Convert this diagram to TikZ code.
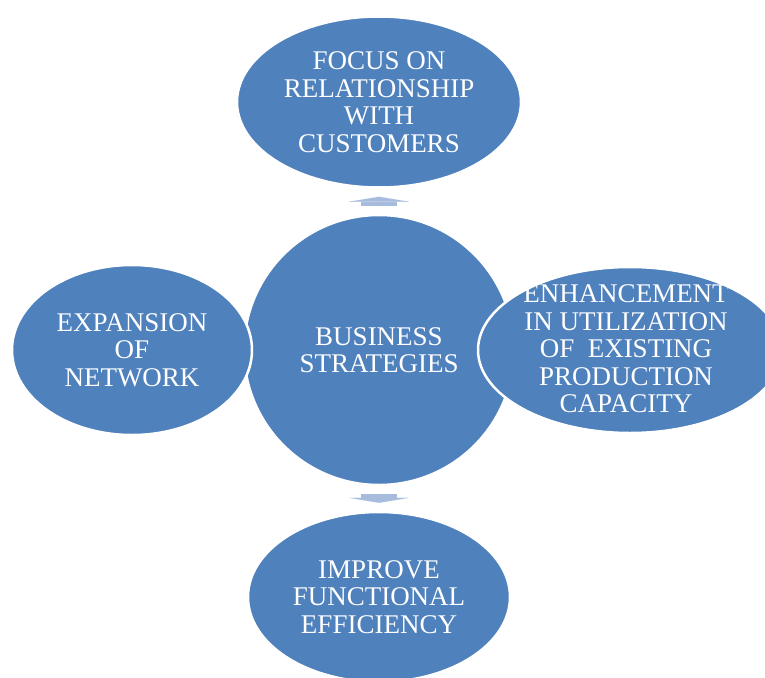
\documentclass[tikz,border=0pt]{standalone}
\usepackage{fontspec}
\setmainfont{Liberation Serif}
\usetikzlibrary{shapes.geometric,arrows.meta}
\definecolor{bubblue}{HTML}{4F81BD}
\definecolor{arrblue}{HTML}{A7BCDC}

\begin{document}
\begin{tikzpicture}[x=1pt,y=1pt]
\tikzstyle{every node}+=[inner sep=0pt]
\tikzstyle{bubble}=[ellipse, fill=bubblue, draw=white, line width=2.5pt]
\tikzstyle{bubtext}=[text=white, align=center, font=\fontsize{27}{27.5}\selectfont]
\tikzstyle{blockarrow}=[draw=arrblue, fill=arrblue, line width=36pt, -{Triangle[width=60pt,length=5pt,line width=0.01pt]}, shorten <=8pt, shorten >=8pt]
\useasboundingbox (0,0) rectangle (765,-677);
\clip (0,0) rectangle (765,-677);
% middle
\node [bubble, minimum width=270pt, minimum height=270pt] (business) at (379,-350) {};
\node [bubtext] (business-t) at (business) {BUSINESS\\STRATEGIES};
% top and bottom
\node [bubble, minimum width=284pt, minimum height=171pt] (focus) at (379,-102) {};
\node [bubtext] (focus-t) at (focus) {FOCUS ON\\RELATIONSHIP\\WITH\\CUSTOMERS};
\node [bubble, minimum width=262pt, minimum height=170pt] (improve) at (379,-597) {};
\node [bubtext] (improve-t) at (improve) {IMPROVE\\FUNCTIONAL\\EFFICIENCY};
% sides
\node [bubble, minimum width=240pt, minimum height=170pt] (expansion) at (132,-350) {};
\node [bubtext] (expansion-t) at (expansion) {EXPANSION\\OF\\NETWORK};
\node [bubble, minimum width=304pt, minimum height=166pt] (enhance) at (630,-350) {};
\node [bubtext] (enhance-t) at (626,-349) {ENHANCEMENT\\IN UTILIZATION\\OF~ EXISTING\\PRODUCTION\\CAPACITY};
% arrows
\draw [blockarrow] (business.north) -- (focus.south);
\draw [blockarrow] (business.south) -- (improve.north);
\end{tikzpicture}
\end{document}
